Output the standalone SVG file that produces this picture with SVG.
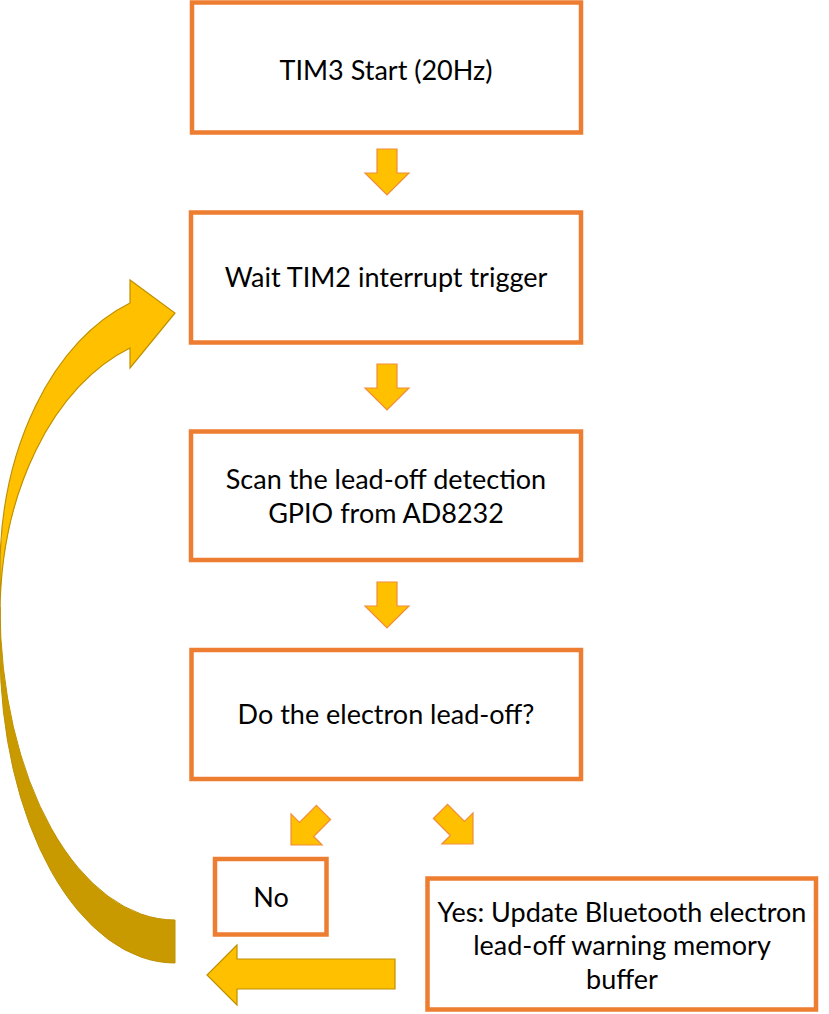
<svg xmlns="http://www.w3.org/2000/svg" width="829" height="1014" viewBox="0 0 829 1014">
  <style>
    .box { fill: #ffffff; stroke: #ED7D31; stroke-width: 4.5; }
    .lbl { font-family: Lato, "Liberation Sans", sans-serif; font-size: 27px; fill: #000000; text-anchor: middle; }
    .arr { fill: #FFC000; stroke: #F08C3A; stroke-width: 1.2; stroke-linejoin: miter; }
    .arrg { fill: #FFC000; stroke: #BF9000; stroke-width: 1.2; }
    .back { fill: #C99A00; stroke: #BF9000; stroke-width: 1; }
  </style>
  <defs>
    <path id="dn" d="M -10,-46 L 10,-46 L 10,-22 L 22,-22 L 0,0 L -22,-22 L -10,-22 Z"/>
  </defs>

  <g id="connectors">
    <use href="#dn" class="arr" transform="translate(387,195)"/>
    <use href="#dn" class="arr" transform="translate(387,410)"/>
    <use href="#dn" class="arr" transform="translate(387,628)"/>
    <use href="#dn" class="arr" transform="translate(291,845) rotate(45)"/>
    <use href="#dn" class="arr" transform="translate(473,844) rotate(-45)"/>
    <path class="arrg" d="M 395,959 L 237,959 L 237,945 L 207,975 L 237,1005 L 237,989 L 395,989 Z"/>
    <path class="back" d="M 175,963 A 175 313 0 0 1 0,650 L 0,607 A 175 313 0 0 0 175,920 Z"/>
    <path class="arrg" d="M 130,303 A 190 281 0 0 0 0,570 L 0,615 A 190 281 0 0 1 130,348 L 130,368 L 175,313 L 130,280 Z"/>
  </g>

  <g id="n1">
    <rect class="box" x="192" y="2.5" width="389" height="130"/>
    <text class="lbl" x="386" y="80">TIM3 Start (20Hz)</text>
  </g>
  <g id="n2">
    <rect class="box" x="191" y="212.5" width="390" height="130"/>
    <text class="lbl" x="386" y="287">Wait TIM2 interrupt trigger</text>
  </g>
  <g id="n3">
    <rect class="box" x="191" y="431.5" width="390" height="128.5"/>
    <text class="lbl" x="386" y="489">Scan the lead-off detection</text>
    <text class="lbl" x="386" y="523">GPIO from AD8232</text>
  </g>
  <g id="n4">
    <rect class="box" x="191.5" y="650" width="389.5" height="129"/>
    <text class="lbl" x="386" y="724">Do the electron lead-off?</text>
  </g>
  <g id="n5">
    <rect class="box" x="215" y="859" width="111.5" height="75.5"/>
    <text class="lbl" x="271" y="907">No</text>
  </g>
  <g id="n6">
    <rect class="box" x="427.5" y="878.5" width="388.5" height="131"/>
    <text class="lbl" x="622" y="922">Yes: Update Bluetooth electron</text>
    <text class="lbl" x="622" y="955">lead-off warning memory</text>
    <text class="lbl" x="622" y="989">buffer</text>
  </g>
</svg>
